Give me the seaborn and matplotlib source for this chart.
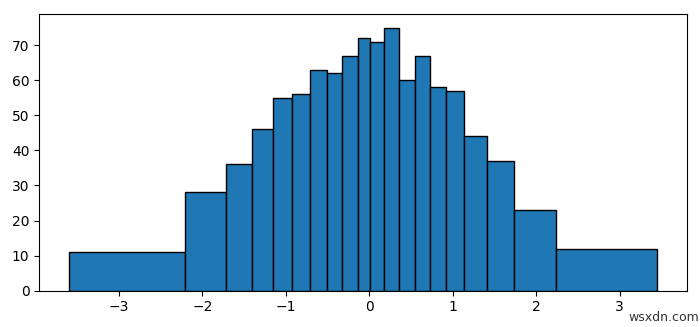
import matplotlib
matplotlib.use("Agg")
import matplotlib.pyplot as plt
import seaborn as sns
import numpy as np
import pandas as pd

bin_edges = [-3.60, -2.21, -1.72, -1.40, -1.15, -0.93, -0.71, -0.51, -0.33, -0.14,
             0.01, 0.18, 0.36, 0.55, 0.73, 0.92, 1.14, 1.41, 1.74, 2.24, 3.45]
counts = [11, 28, 36, 46, 55, 56, 63, 62, 67, 72, 71, 75, 60, 67, 58, 57, 44, 37, 23, 12]

edges = np.array(bin_edges)
centers = (edges[:-1] + edges[1:]) / 2
df = pd.DataFrame({"x": centers, "w": counts})

fig = plt.figure(figsize=(7.0, 3.27), dpi=100)
ax = fig.add_axes([0.056, 0.111, 0.925, 0.845])
sns.histplot(data=df, x="x", weights="w", bins=list(bin_edges), ax=ax, color="#1f77b4",
             edgecolor="black", linewidth=1.0, alpha=1.0)
ax.set_ylabel("")
ax.set_xlabel("")
ax.set_xticks([-3, -2, -1, 0, 1, 2, 3])
fig.text(0.898, 0.03, "wsxdn.com", ha="left", va="center", fontsize=9, color="#333333")
fig.savefig("out.png", dpi=100)
